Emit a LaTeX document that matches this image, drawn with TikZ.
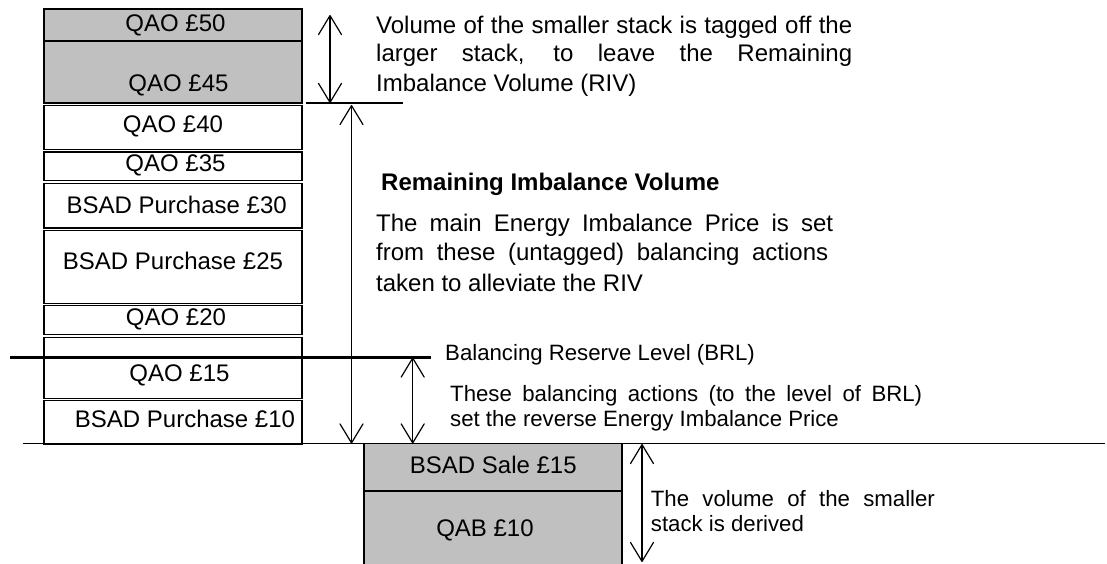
\documentclass[tikz,border=0pt]{standalone}
\usepackage{fontspec}
\setmainfont{Liberation Sans}
\usetikzlibrary{arrows.meta}
\definecolor{boxgray}{RGB}{192,192,192}
\begin{document}
\begin{tikzpicture}[x=1pt,y=-1pt,
  stk/.style={draw, line width=1.3pt, inner sep=0pt, outer sep=0pt, minimum width=258pt, anchor=north west},
  grey/.style={fill=boxgray},
  lbl/.style={inner sep=0pt, anchor=base, font=\fontsize{24}{28}\selectfont},
  big/.style={inner sep=0pt, anchor=base west, font=\fontsize{24}{29}\selectfont},
  small/.style={inner sep=0pt, anchor=base west, font=\fontsize{22.2}{26}\selectfont},
  dim/.style={line width=1.2pt, {Straight Barb[length=19pt,width=23pt,round]}-{Straight Barb[length=19pt,width=23pt,round]}},
  upar/.style={line width=1.2pt, {Straight Barb[length=19pt,width=23pt,round]}-{Straight Barb[length=19pt,width=23pt,round]}},
  thin/.style={line width=1.2pt}]
\useasboundingbox (0,0) rectangle (1107,564);
% left stack
\node[stk,grey,minimum height=32pt] (b1) at (44,9) {};
\node[stk,grey,minimum height=62pt] (b2) at (44,41) {};
\node[stk,minimum height=43.5pt] (b3) at (44,105.8) {};
\node[stk,minimum height=28.7pt] (b4) at (44,152) {};
\node[stk,minimum height=44.8pt] (b5) at (44,183.3) {};
\node[stk,minimum height=72.8pt] (b6) at (44,230.5) {};
\node[stk,minimum height=28.6pt] (b7) at (44,305.7) {};
\node[stk,minimum height=60.6pt] (b8) at (44,337.7) {};
\node[stk,minimum height=43.3pt] (b9) at (44,400.7) {};
% right stack
\node[stk,grey,minimum height=47.5pt] (r1) at (364,443.5) {};
\node[stk,grey,minimum height=75pt] (r2) at (364,491) {};
% labels in boxes
\node[lbl] (t1) at (175.5,32) {QAO £50};
\node[lbl] (t2) at (178.5,91.3) {QAO £45};
\node[lbl] (t3) at (173,133) {QAO £40};
\node[lbl] (t4) at (175.5,171.3) {QAO £35};
\node[lbl] (t5) at (176.7,213) {BSAD Purchase £30};
\node[lbl] (t6) at (173,269.7) {BSAD Purchase £25};
\node[lbl] (t7) at (176,325.7) {QAO £20};
\node[lbl] (t8) at (179.5,381.3) {QAO £15};
\node[lbl] (t9) at (185,427) {BSAD Purchase £10};
\node[lbl] (t10) at (493.3,473.3) {BSAD Sale £15};
\node[lbl] (t11) at (485,536.5) {QAB £10};
% lines
\coordinate (base l) at (23,443.5);
\coordinate (base r) at (1105,443.5);
\draw[thin] (base l) -- (base r);
\coordinate (brl l) at (10,357.5);
\coordinate (brl r) at (431,357.5);
\draw[line width=3.6pt] (brl l) -- (brl r);
\coordinate (h l) at (306,103);
\coordinate (h r) at (403,103);
\draw[thin] (h l) -- (h r);
% arrows
\coordinate (a1t) at (330,15);
\coordinate (a1b) at (330,103);
\draw[dim] (a1t) -- (a1b);
\coordinate (a2t) at (351.5,105);
\coordinate (a2b) at (351.5,443.5);
\draw[dim] (a2t) -- (a2b);
\coordinate (a3t) at (412.7,357.5);
\coordinate (a3b) at (412.7,443.5);
\draw[dim] (a3t) -- (a3b);
\coordinate (a4t) at (642,444);
\coordinate (a4b) at (642,562);
\draw[dim] (a4t) -- (a4b);
% annotations
\node[big] (n1) at (376,33.3) {\makebox[476pt][s]{Volume of the smaller stack is tagged off the}};
\node[big] (n2) at (376,61.7) {\makebox[476pt][s]{larger stack, to leave the Remaining}};
\node[big] (n3) at (376,91.7) {Imbalance Volume (RIV)};
\node[big,font=\fontsize{24}{29}\selectfont\bfseries] (n4) at (381,190) {Remaining Imbalance Volume};
\node[big] (n5) at (376,231.7) {\makebox[457pt][s]{The main Energy Imbalance Price is set}};
\node[big] (n6) at (376,260) {\makebox[452pt][s]{from these (untagged) balancing actions}};
\node[big] (n7) at (376,291) {taken to alleviate the RIV};
\node[small] (n8) at (445,360) {Balancing Reserve Level (BRL)};
\node[small] (n9) at (450,401.7) {\makebox[472pt][s]{These balancing actions (to the level of BRL)}};
\node[small] (n10) at (450,426.7) {set the reverse Energy Imbalance Price};
\node[small] (n11) at (650.7,506.7) {\makebox[284pt][s]{The volume of the smaller}};
\node[small] (n12) at (650.7,531.7) {stack is derived};
\end{tikzpicture}
\end{document}
